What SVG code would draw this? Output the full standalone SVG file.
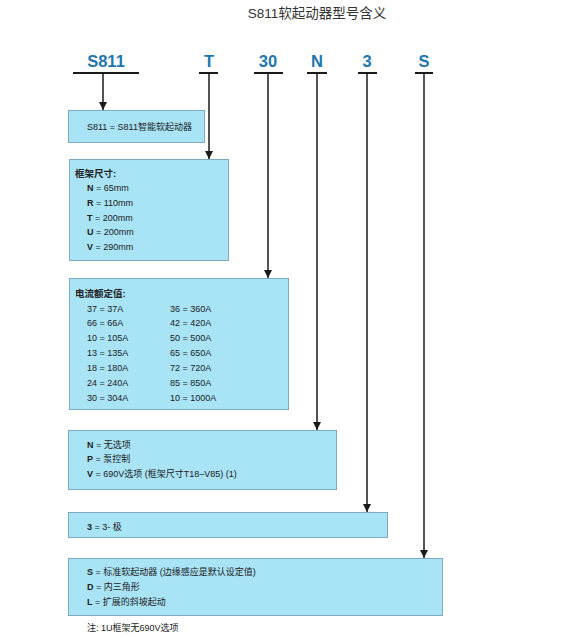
<svg xmlns="http://www.w3.org/2000/svg" width="588" height="640" viewBox="0 0 588 640">
<defs>
<marker id="ah" viewBox="0 0 8 10" refX="8" refY="5" markerWidth="8" markerHeight="10" markerUnits="userSpaceOnUse" orient="auto">
<path d="M0,1 L8,5 L0,9 Z" fill="#1a1a1a"/>
</marker>
<style>
.title{font-family:"Liberation Sans","Noto Sans CJK SC",sans-serif;font-size:13.5px;fill:#333}
.code{font-family:"Liberation Sans",sans-serif;font-size:16.5px;font-weight:bold;fill:#1f75b0;text-anchor:middle}
.ul{stroke:#1a1a1a;stroke-width:2}
.con{stroke:#1a1a1a;stroke-width:1.5;fill:none}
.box{fill:#a8e3f6;stroke:#80aabf;stroke-width:1}
.t{font-family:"Liberation Sans","Noto Sans CJK SC",sans-serif;font-size:9px;fill:#222}
.h{font-family:"Liberation Sans","Noto Sans CJK SC",sans-serif;font-size:9.5px;font-weight:bold;fill:#222}
.b{font-weight:bold}
</style>
</defs>
<rect width="588" height="640" fill="#fff"/>
<text class="title" x="317" y="18" text-anchor="middle">S811软起动器型号含义</text>

<g id="codes">
<text class="code" x="106" y="67">S811</text>
<line class="ul" x1="73" y1="73" x2="139" y2="73"/>
<text class="code" x="209" y="67">T</text>
<line class="ul" x1="199" y1="73" x2="218" y2="73"/>
<text class="code" x="268" y="67">30</text>
<line class="ul" x1="254" y1="73" x2="283" y2="73"/>
<text class="code" x="317" y="67">N</text>
<line class="ul" x1="307" y1="73" x2="327" y2="73"/>
<text class="code" x="367" y="67">3</text>
<line class="ul" x1="358" y1="73" x2="377" y2="73"/>
<text class="code" x="424" y="67">S</text>
<line class="ul" x1="415" y1="73" x2="433" y2="73"/>
</g>

<g id="connectors">
<line class="con" x1="103" y1="74" x2="103" y2="110" marker-end="url(#ah)"/>
<line class="con" x1="209" y1="74" x2="209" y2="159" marker-end="url(#ah)"/>
<line class="con" x1="268" y1="74" x2="268" y2="278" marker-end="url(#ah)"/>
<line class="con" x1="317" y1="74" x2="317" y2="430" marker-end="url(#ah)"/>
<line class="con" x1="367" y1="74" x2="367" y2="512" marker-end="url(#ah)"/>
<line class="con" x1="424" y1="74" x2="424" y2="558" marker-end="url(#ah)"/>
</g>

<g id="box-series">
<rect class="box" x="68.5" y="110.5" width="136" height="32"/>
<text class="t" x="87" y="130">S811 = S811智能软起动器</text>
</g>

<g id="box-frame">
<rect class="box" x="69.5" y="159.5" width="159" height="101"/>
<text class="h" x="75" y="177">框架尺寸:</text>
<text class="t" x="87" y="191"><tspan class="b">N</tspan> = 65mm</text>
<text class="t" x="87" y="206"><tspan class="b">R</tspan> = 110mm</text>
<text class="t" x="87" y="221"><tspan class="b">T</tspan> = 200mm</text>
<text class="t" x="87" y="235"><tspan class="b">U</tspan> = 200mm</text>
<text class="t" x="87" y="250"><tspan class="b">V</tspan> = 290mm</text>
</g>

<g id="box-current">
<rect class="box" x="69.5" y="278.5" width="219" height="131"/>
<text class="h" x="75" y="297">电流额定值:</text>
<text class="t" x="87" y="312">37 = 37A</text>
<text class="t" x="87" y="326">66 = 66A</text>
<text class="t" x="87" y="341">10 = 105A</text>
<text class="t" x="87" y="356">13 = 135A</text>
<text class="t" x="87" y="371">18 = 180A</text>
<text class="t" x="87" y="386">24 = 240A</text>
<text class="t" x="87" y="401">30 = 304A</text>
<text class="t" x="170" y="312">36 = 360A</text>
<text class="t" x="170" y="326">42 = 420A</text>
<text class="t" x="170" y="341">50 = 500A</text>
<text class="t" x="170" y="356">65 = 650A</text>
<text class="t" x="170" y="371">72 = 720A</text>
<text class="t" x="170" y="386">85 = 850A</text>
<text class="t" x="170" y="401">10 = 1000A</text>
</g>

<g id="box-option">
<rect class="box" x="68.5" y="430.5" width="268" height="59"/>
<text class="t" x="87" y="448"><tspan class="b">N</tspan> = 无选项</text>
<text class="t" x="87" y="462"><tspan class="b">P</tspan> = 泵控制</text>
<text class="t" x="87" y="477"><tspan class="b">V</tspan> = 690V选项 (框架尺寸T18–V85) (1)</text>
</g>

<g id="box-poles">
<rect class="box" x="68.5" y="512.5" width="319" height="25"/>
<text class="t" x="87" y="530"><tspan class="b">3</tspan> = 3- 极</text>
</g>

<g id="box-type">
<rect class="box" x="68.5" y="558.5" width="374" height="57"/>
<text class="t" x="87" y="575"><tspan class="b">S</tspan> = 标准软起动器 (边缘感应是默认设定值)</text>
<text class="t" x="87" y="590"><tspan class="b">D</tspan> = 内三角形</text>
<text class="t" x="87" y="605"><tspan class="b">L</tspan> = 扩展的斜坡起动</text>
</g>

<text class="t" x="87" y="631">注: 1U框架无690V选项</text>
</svg>
